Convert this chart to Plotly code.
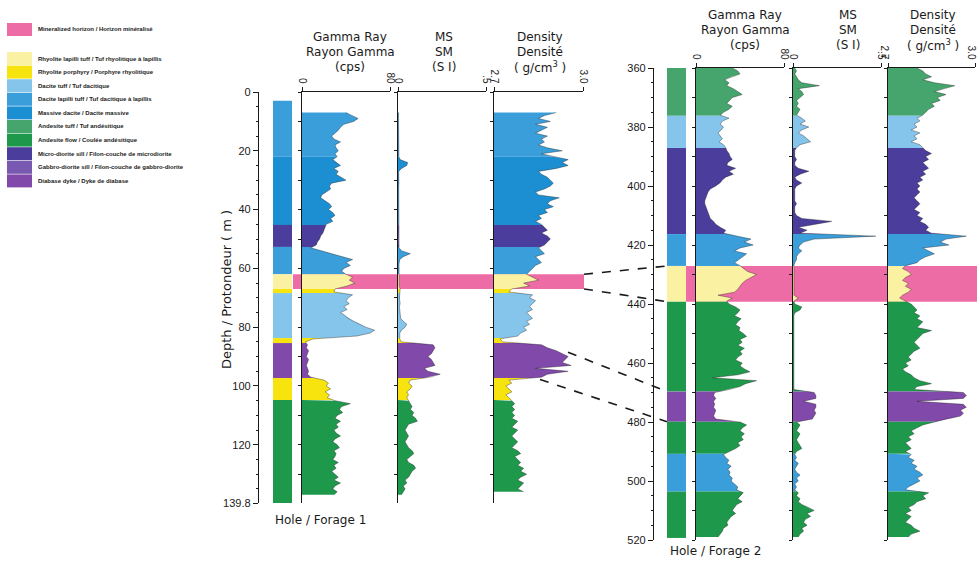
import plotly.graph_objects as go
import numpy as np

# ---------------- data ----------------
LITH_KEYS = ["min", "rlt", "rp", "dt", "dlt", "md", "at", "af", "mds", "gds", "dd"]
LITH_LABELS = [
    "Mineralized horizon / Horizon minéralisé",
    "Rhyolite lapilli tuff / Tuf rhyolitique à lapillis",
    "Rhyolite porphyry / Porphyre rhyolitique",
    "Dacite tuff / Tuf dacitique",
    "Dacite lapilli tuff / Tuf dacitique à lapillis",
    "Massive dacite / Dacite massive",
    "Andesite tuff / Tuf andésitique",
    "Andesite flow / Coulée andésitique",
    "Micro-diorite sill / Filon-couche de microdiorite",
    "Gabbro-diorite sill / Filon-couche de gabbro-diorite",
    "Diabase dyke / Dyke de diabase",
]
LITH_COLORS = ["#ee6ca6", "#faf2a2", "#f7e40f", "#86c5eb", "#3a9edb", "#1c8fd2",
               "#45a56d", "#1e994c", "#4a3d9b", "#7858b1", "#8049aa"]

# Hole 1 lithology intervals (m)
H1_TOP = [3, 22, 45.2, 52.7, 62, 67, 68.4, 83.7, 85.4, 97.3, 104.8]
H1_BOT = [22, 45.2, 52.7, 62, 67, 68.4, 83.7, 85.4, 97.3, 104.8, 139.8]
H1_LITH = ["dlt", "md", "mds", "dlt", "rlt", "rp", "dt", "rp", "dd", "rp", "af"]
H1_MINERAL = [62, 67]

# Hole 2 lithology intervals (m)
H2_TOP = [360, 376.2, 387.1, 416.3, 427.1, 439.2, 469.7, 479.9, 490.8, 503.6]
H2_BOT = [376.2, 387.1, 416.3, 427.1, 439.2, 469.7, 479.9, 490.8, 503.6, 519.3]
H2_LITH = ["at", "dt", "mds", "dlt", "rlt", "af", "dd", "af", "dlt", "af"]
H2_MINERAL = [427.1, 439.2]

# Hole 1 logs
H1_DEPTH = list(range(7, 138))
H1_GR = [40, 45, 51, 47, 38, 35, 33, 30, 27, 29,
         35, 30, 31, 33, 30, 32, 28, 31, 35, 29,
         33, 31, 36, 40, 27, 25, 26, 22, 18, 17,
         21, 25, 27, 24, 28, 30, 26, 28, 22, 21,
         20, 19, 17, 16, 14, 13, 8, 18, 28, 38,
         46, 40, 44, 38, 36, 40, 46, 43, 48, 41,
         30, 29, 46, 42, 40, 43, 38, 41, 35, 39,
         42, 47, 53, 58, 66, 62, 50, 10, 3, 5,
         4, 6, 5, 4, 6, 5, 4, 5, 6, 5,
         8, 20, 24, 22, 26, 21, 25, 23, 30, 44,
         36, 34, 37, 32, 30, 35, 31, 33, 29, 31,
         35, 30, 28, 32, 34, 29, 31, 30, 28, 33,
         29, 31, 27, 30, 33, 29, 35, 30, 28, 32,
         29]
H1_MS = [0.003, 0.003, 0.003, 0.003, 0.003, 0.003, 0.003, 0.003, 0.003, 0.003,
         0.003, 0.003, 0.004, 0.003, 0.004, 0.005, 0.012, 0.055, 0.05, 0.02,
         0.004, 0.005, 0.004, 0.004, 0.005, 0.004, 0.004, 0.005, 0.004, 0.004,
         0.004, 0.005, 0.004, 0.004, 0.004, 0.005, 0.004, 0.004, 0.004, 0.005,
         0.004, 0.004, 0.005, 0.004, 0.004, 0.005, 0.006, 0.02, 0.07, 0.03,
         0.01, 0.006, 0.005, 0.006, 0.005, 0.006, 0.006, 0.005, 0.006, 0.006,
         0.012, 0.01, 0.01, 0.008, 0.01, 0.012, 0.008, 0.01, 0.012, 0.01,
         0.015, 0.03, 0.05, 0.04, 0.02, 0.01, 0.008, 0.01, 0.02, 0.2,
         0.21, 0.2, 0.19, 0.17, 0.19, 0.2, 0.21, 0.15, 0.17, 0.24,
         0.18, 0.07, 0.06, 0.08, 0.07, 0.05, 0.06, 0.05, 0.06, 0.07,
         0.08, 0.07, 0.09, 0.08, 0.1, 0.11, 0.06, 0.05, 0.04, 0.05,
         0.06, 0.05, 0.04, 0.05, 0.06, 0.08, 0.09, 0.07, 0.05, 0.06,
         0.09, 0.1, 0.08, 0.07, 0.06, 0.04, 0.05, 0.03, 0.04, 0.03,
         0.02]
H1_DEN_DEPTH = list(range(7, 137))
H1_DEN = [2.91, 2.87, 2.85, 2.89, 2.84, 2.88, 2.86, 2.84, 2.88, 2.86,
          2.87, 2.85, 2.88, 2.93, 2.86, 2.90, 2.95, 2.93, 2.95, 2.91,
          2.85, 2.86, 2.88, 2.89, 2.90, 2.89, 2.87, 2.84, 2.85, 2.92,
          2.89, 2.88, 2.90, 2.87, 2.88, 2.85, 2.86, 2.84, 2.86, 2.87,
          2.88, 2.86, 2.88, 2.89, 2.88, 2.87, 2.85, 2.86, 2.87, 2.84,
          2.85, 2.86, 2.84, 2.83, 2.82, 2.81, 2.83, 2.85, 2.80, 2.82,
          2.76, 2.75, 2.83, 2.82, 2.84, 2.83, 2.82, 2.83, 2.81, 2.82,
          2.83, 2.81, 2.82, 2.80, 2.81, 2.79, 2.78, 2.72, 2.73, 2.86,
          2.88, 2.91, 2.93, 2.95, 2.94, 2.93, 2.96, 2.84, 2.95, 2.88,
          2.86, 2.75, 2.76, 2.74, 2.75, 2.76, 2.74, 2.75, 2.76, 2.77,
          2.76, 2.77, 2.76, 2.77, 2.76, 2.78, 2.77, 2.76, 2.78, 2.77,
          2.76, 2.77, 2.78, 2.77, 2.76, 2.78, 2.79, 2.77, 2.78, 2.79,
          2.78, 2.80, 2.79, 2.81, 2.79, 2.78, 2.80, 2.79, 2.78, 2.80]

# Hole 2 logs
H2_DEPTH = list(range(360, 520))
H2_GR = [33, 38, 40, 32, 26, 30, 28, 34, 38, 42,
         33, 30, 28, 33, 30, 25, 22, 30, 24, 22,
         25, 23, 20, 22, 24, 21, 25, 27, 28, 30,
         31, 33, 29, 28, 36, 30, 34, 27, 24, 22,
         18, 13, 11, 10, 9, 8, 8, 9, 10, 11,
         12, 13, 16, 18, 22, 27, 25, 38, 50, 44,
         52, 40, 35, 46, 42, 38, 35, 40, 43, 47,
         55, 50, 45, 42, 40, 38, 35, 20, 33, 28,
         30, 36, 40, 38, 35, 41, 38, 36, 40, 39,
         43, 46, 40, 42, 38, 44, 40, 42, 38, 36,
         42, 40, 44, 49, 38, 15, 55, 45, 40, 30,
         17, 16, 18, 16, 17, 16, 18, 17, 16, 18,
         40, 46, 42, 40, 44, 41, 43, 38, 40, 36,
         30, 25, 27, 30, 28, 32, 29, 31, 30, 33,
         32, 35, 38, 37, 43, 40, 38, 42, 37, 35,
         33, 36, 32, 30, 28, 29, 25, 24, 22, 20]
H2_MS = [0.01, 0.02, 0.01, 0.02, 0.03, 0.05, 0.15, 0.03, 0.05, 0.06,
         0.04, 0.02, 0.03, 0.02, 0.04, 0.03, 0.02, 0.05, 0.07, 0.04,
         0.09, 0.05, 0.03, 0.06, 0.08, 0.10, 0.04, 0.02, 0.01, 0.01,
         0.01, 0.02, 0.01, 0.01, 0.03, 0.09, 0.04, 0.01, 0.02, 0.05,
         0.02, 0.01, 0.01, 0.01, 0.01, 0.01, 0.02, 0.01, 0.01, 0.01,
         0.02, 0.05, 0.22, 0.12, 0.03, 0.08, 0.04, 0.47, 0.12, 0.06,
         0.04, 0.03, 0.05, 0.03, 0.02, 0.02, 0.01, 0.005, 0.005, 0.005,
         0.005, 0.005, 0.005, 0.005, 0.005, 0.005, 0.005, 0.005, 0.03, 0.005,
         0.01, 0.05, 0.04, 0.01, 0.005, 0.005, 0.005, 0.005, 0.005, 0.005,
         0.005, 0.005, 0.005, 0.005, 0.005, 0.005, 0.005, 0.005, 0.005, 0.005,
         0.005, 0.005, 0.005, 0.005, 0.005, 0.005, 0.005, 0.005, 0.005, 0.005,
         0.12, 0.13, 0.13, 0.06, 0.13, 0.13, 0.12, 0.13, 0.12, 0.11,
         0.02, 0.04, 0.03, 0.02, 0.04, 0.03, 0.02, 0.03, 0.04, 0.05,
         0.02, 0.01, 0.02, 0.01, 0.03, 0.02, 0.01, 0.02, 0.04, 0.02,
         0.03, 0.01, 0.02, 0.01, 0.03, 0.02, 0.04, 0.03, 0.05, 0.09,
         0.12, 0.08, 0.10, 0.07, 0.06, 0.08, 0.05, 0.06, 0.04, 0.03]
H2_DEN = [2.80, 2.82, 2.83, 2.85, 2.82, 2.86, 2.93, 2.89, 2.86, 2.90,
          2.87, 2.88, 2.85, 2.86, 2.84, 2.83, 2.82, 2.80, 2.81, 2.79,
          2.80, 2.78, 2.81, 2.79, 2.80, 2.78, 2.81, 2.82, 2.83, 2.85,
          2.83, 2.84, 2.82, 2.83, 2.84, 2.82, 2.83, 2.81, 2.82, 2.80,
          2.81, 2.80, 2.81, 2.80, 2.79, 2.80, 2.81, 2.80, 2.79, 2.81,
          2.80, 2.82, 2.81, 2.83, 2.84, 2.83, 2.85, 2.97, 2.90, 2.88,
          2.91, 2.82, 2.84, 2.86, 2.83, 2.81, 2.80, 2.76, 2.75, 2.77,
          2.78, 2.76, 2.75, 2.77, 2.76, 2.78, 2.77, 2.75, 2.74, 2.76,
          2.78, 2.79, 2.80, 2.79, 2.81, 2.80, 2.82, 2.81, 2.80, 2.85,
          2.82, 2.81, 2.80, 2.79, 2.80, 2.81, 2.79, 2.78, 2.77, 2.78,
          2.76, 2.77, 2.75, 2.76, 2.78, 2.79, 2.81, 2.85, 2.80, 2.79,
          2.96, 2.97, 2.96, 2.80, 2.96, 2.97, 2.95, 2.96, 2.95, 2.90,
          2.86, 2.82, 2.80, 2.78, 2.79, 2.77, 2.78, 2.76, 2.77, 2.78,
          2.76, 2.78, 2.77, 2.79, 2.78, 2.80, 2.79, 2.81, 2.82, 2.80,
          2.81, 2.79, 2.77, 2.76, 2.84, 2.82, 2.83, 2.80, 2.79, 2.77,
          2.78, 2.76, 2.78, 2.77, 2.76, 2.78, 2.79, 2.81, 2.78, 2.77]

H1_TICKS = [0, 20, 40, 60, 80, 100, 120, 139.8]
H1_TICKTEXT = ["0", "20", "40", "60", "80", "100", "120", "139.8"]
H2_TICKS = [360, 380, 400, 420, 440, 460, 480, 500, 520]

TRACK_RANGES = [[0, 80], [0, 0.5], [2.7, 3.0]]
TRACK_TICKTEXT = [["0", "80"], ["0", ".5"], ["2.7", "3.0"]]
TRACK_TITLES = [["Gamma Ray", "Rayon Gamma", "(cps)"],
                ["MS", "SM", "(S I)"],
                ["Density", "Densité", "( g/cm<sup>3</sup> )"]]

# connection lines between holes (depths)
CONN_H1 = [62, 67, 88.5, 97.8]
CONN_H2 = [427.1, 439.2, 469.7, 479.9]

# ---------------- layout helpers ----------------
W, H = 977, 563
def fx(p):
    return p / W
def fy(p):
    return 1 - p / H

COLOR = dict(zip(LITH_KEYS, LITH_COLORS))
FONT = "DejaVu Sans"
INK = "#1a1a1a"

holes = [
    dict(rng=[139.8, 0], dom=[fy(503), fy(92)], col=(273, 292), axis_x=258,
         tracks=[(302, 390), (398, 486), (494, 583)],
         tickvals=H1_TICKS, ticktext=H1_TICKTEXT,
         top=H1_TOP, bot=H1_BOT, lith=H1_LITH, mineral=H1_MINERAL, pink=(293, 584),
         logs=[(H1_DEPTH, H1_GR), (H1_DEPTH, H1_MS), (H1_DEN_DEPTH, H1_DEN)],
         title_y=[37, 52, 67], title_x=[350, 444, 540], lshift=[0, 0, 0],
         label="Hole / Forage 1", label_pos=(273, 520)),
    dict(rng=[520, 360], dom=[fy(540), fy(68)], col=(667, 686), axis_x=653,
         tracks=[(696, 784), (793, 881), (888, 975)],
         tickvals=H2_TICKS, ticktext=[str(t) for t in H2_TICKS],
         top=H2_TOP, bot=H2_BOT, lith=H2_LITH, mineral=H2_MINERAL, pink=(686, 977),
         logs=[(H2_DEPTH, H2_GR), (H2_DEPTH, H2_MS), (H2_DEPTH, H2_DEN)],
         title_y=[15, 30, 45], title_x=[745, 848, 933], lshift=[0, 0, -4],
         label="Hole / Forage 2", label_pos=(668, 551)),
]

def d2p(h, d):
    dom, rng = h["dom"], h["rng"]
    f = (d - rng[0]) / (rng[1] - rng[0])
    return dom[0] + f * (dom[1] - dom[0])

def sfx(n):
    return "" if n == 1 else str(n)

fig = go.Figure()
layout = {}
shapes = []
annotations = []

for hi, h in enumerate(holes):
    base_n = hi * 4
    # lithology column
    n = base_n + 1
    xa, ya = "x" + sfx(n), "y" + sfx(n)
    for t, b, k in zip(h["top"], h["bot"], h["lith"]):
        fig.add_trace(go.Bar(x=[0], y=[b - t], base=[t], width=1,
                             marker=dict(color=COLOR[k], line=dict(width=0)),
                             xaxis=xa, yaxis=ya, showlegend=False, hoverinfo="skip"))
    layout["xaxis" + sfx(n)] = dict(domain=[fx(h["col"][0]), fx(h["col"][1])],
                                    range=[-0.5, 0.5], visible=False, anchor=ya,
                                    fixedrange=True, automargin=False)
    layout["yaxis" + sfx(n)] = dict(domain=h["dom"], range=h["rng"], anchor="free",
                                    position=fx(h["axis_x"]), showline=True, linecolor=INK,
                                    linewidth=1.3, ticks="outside", ticklen=5, tickcolor=INK,
                                    tickvals=h["tickvals"], ticktext=h["ticktext"],
                                    tickfont=dict(family="Liberation Sans", size=11, color=INK),
                                    minor=dict(tickmode="linear", tick0=0, dtick=5, ticks="outside",
                                               ticklen=2, tickcolor=INK, showgrid=False),
                                    showgrid=False, zeroline=False, fixedrange=True,
                                    automargin=False)
    # log tracks
    for ti in range(3):
        n = base_n + 2 + ti
        xa, ya = "x" + sfx(n), "y" + sfx(n)
        dep = np.array(h["logs"][ti][0], dtype=float)
        val = np.array(h["logs"][ti][1], dtype=float)
        base = TRACK_RANGES[ti][0]
        for t, b, k in zip(h["top"], h["bot"], h["lith"]):
            lo, up = max(t, dep[0]), min(b, dep[-1])
            if up <= lo:
                continue
            m = (dep > lo) & (dep < up)
            ys = [lo] + list(dep[m]) + [up]
            xs = [np.interp(lo, dep, val)] + list(val[m]) + [np.interp(up, dep, val)]
            fig.add_trace(go.Scatter(x=[base] + xs + [base], y=[lo] + ys + [up],
                                     fill="toself", fillcolor=COLOR[k], mode="lines",
                                     line=dict(width=0, color=COLOR[k]),
                                     xaxis=xa, yaxis=ya, showlegend=False, hoverinfo="skip"))
        fig.add_trace(go.Scatter(x=val, y=dep, mode="lines",
                                 line=dict(width=0.7, color="rgba(30,30,30,0.55)"),
                                 xaxis=xa, yaxis=ya, showlegend=False, hoverinfo="skip"))
        x0, x1 = h["tracks"][ti]
        layout["xaxis" + sfx(n)] = dict(domain=[fx(x0), fx(x1)], range=TRACK_RANGES[ti],
                                        side="top", anchor=ya, showline=True, linecolor=INK,
                                        linewidth=1, ticks="outside", ticklen=4, tickcolor=INK,
                                        tickvals=TRACK_RANGES[ti], ticktext=TRACK_TICKTEXT[ti],
                                        tickangle=90, ticklabeloverflow="allow",
                                        ticklabelshift=h["lshift"][ti],
                                        tickfont=dict(family="Liberation Sans", size=10, color=INK),
                                        showgrid=False, zeroline=False, fixedrange=True,
                                        automargin=False)
        layout["yaxis" + sfx(n)] = dict(domain=h["dom"], range=h["rng"], anchor=xa,
                                        showline=True, linecolor=INK, linewidth=1,
                                        ticks="outside", ticklen=3, tickcolor=INK,
                                        tickmode="linear", tick0=0, dtick=10,
                                        showticklabels=False, showgrid=False, zeroline=False,
                                        fixedrange=True, automargin=False)
        for li, txt in enumerate(TRACK_TITLES[ti]):
            annotations.append(dict(text=txt, x=fx(h["title_x"][ti]), y=fy(h["title_y"][li]),
                                    xref="paper", yref="paper", showarrow=False,
                                    xanchor="center", yanchor="middle",
                                    font=dict(family=FONT, size=12, color=INK)))
    # mineralized horizon band
    shapes.append(dict(type="rect", xref="paper", yref="y" + sfx(base_n + 1),
                       x0=fx(h["pink"][0]), x1=fx(h["pink"][1]),
                       y0=h["mineral"][0], y1=h["mineral"][1],
                       fillcolor=COLOR["min"], line=dict(width=0), layer="below"))
    annotations.append(dict(text=h["label"], x=fx(h["label_pos"][0]), y=fy(h["label_pos"][1]),
                            xref="paper", yref="paper", showarrow=False,
                            xanchor="left", yanchor="middle",
                            font=dict(family=FONT, size=12, color=INK)))

# connection dashed lines
CONN_X0 = [584, 584, 568, 540]
for d1, d2, x0 in zip(CONN_H1, CONN_H2, CONN_X0):
    shapes.append(dict(type="line", xref="paper", yref="paper",
                       x0=fx(x0), y0=d2p(holes[0], d1), x1=fx(667), y1=d2p(holes[1], d2),
                       line=dict(color=INK, width=1.6, dash="dash")))

# depth title
annotations.append(dict(text="Depth / Protondeur ( m )", x=fx(226), y=fy(290),
                        xref="paper", yref="paper", showarrow=False, textangle=-90,
                        xanchor="center", yanchor="middle",
                        font=dict(family=FONT, size=13, color=INK)))

# legend
LEG_Y = [23, 52, 65.6, 79.2, 92.8, 106.4, 120, 133.6, 147.2, 160.8, 174.4]
for k, lab, y in zip(LITH_KEYS, LITH_LABELS, LEG_Y):
    shapes.append(dict(type="rect", xref="paper", yref="paper",
                       x0=fx(7), x1=fx(32), y0=fy(y), y1=fy(y + 13),
                       fillcolor=COLOR[k], line=dict(width=0)))
    annotations.append(dict(text="<b>" + lab + "</b>", x=fx(36), y=fy(y + 6.5),
                            xref="paper", yref="paper", showarrow=False,
                            xanchor="left", yanchor="middle",
                            font=dict(family="Liberation Sans", size=6, color=INK)))

fig.update_layout(width=W, height=H, margin=dict(l=0, r=0, t=0, b=0, autoexpand=False),
                  paper_bgcolor="white", plot_bgcolor="rgba(0,0,0,0)",
                  barmode="overlay", showlegend=False,
                  shapes=shapes, annotations=annotations, **layout)
fig.write_html("out.html", config={"displayModeBar": False},
               post_script="document.body.style.margin='0px';document.body.style.padding='0px';")
